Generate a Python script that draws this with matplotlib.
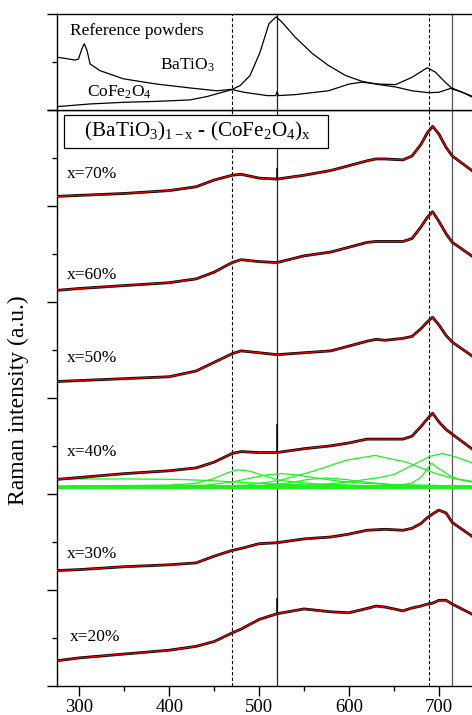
import matplotlib
matplotlib.use("Agg")
import matplotlib.pyplot as plt
from matplotlib.ticker import MultipleLocator

plt.rcParams['font.family'] = ['Liberation Serif', 'DejaVu Serif']
plt.rcParams['mathtext.fontset'] = 'custom'
plt.rcParams['mathtext.rm'] = 'Liberation Serif'
plt.rcParams['mathtext.it'] = 'Liberation Serif:italic'
plt.rcParams['mathtext.bf'] = 'Liberation Serif:bold'

# ---------------- data ----------------
# reference markers (cm-1)
dashed_lines = [470, 689]
solid_lines = [520, 715]

# reference powders (top panel)
cfo_x = [275, 286, 295, 299, 303, 305.6, 308.6, 312, 323, 349, 386, 423, 453, 469, 483, 509,
         518.5, 520, 521.5, 540, 577, 600, 614, 633, 652, 670, 687, 696, 707, 714, 726, 738]
cfo_y = [0.55, 0.535, 0.52, 0.53, 0.64, 0.69, 0.62, 0.48, 0.41, 0.325, 0.27, 0.23, 0.20, 0.215, 0.185, 0.15,
         0.15, 0.19, 0.15, 0.16, 0.20, 0.27, 0.29, 0.27, 0.265, 0.34, 0.44, 0.395, 0.29, 0.23, 0.185, 0.13]
bto_x = [275, 312, 349, 386, 423, 442, 461, 469, 479, 490, 501, 511, 519, 525, 540, 559, 577, 596,
         614, 633, 652, 670, 689, 700, 713, 726, 738]
bto_y = [0.035, 0.063, 0.08, 0.09, 0.105, 0.14, 0.19, 0.21, 0.255, 0.36, 0.60, 0.90, 0.97, 0.92, 0.76,
         0.59, 0.465, 0.36, 0.30, 0.265, 0.24, 0.20, 0.18, 0.185, 0.225, 0.185, 0.14]

# composite spectra (bottom panel, stacked, fitted envelope)
wn = [275, 300, 350, 400, 430, 450, 470, 480, 500, 520, 550, 580, 600, 620, 630, 640, 660, 670,
      680, 687, 693, 700, 708, 715, 738]
fit_70 = [5.10, 5.11, 5.13, 5.16, 5.20, 5.27, 5.32, 5.33, 5.29, 5.28, 5.32, 5.37, 5.42, 5.47, 5.49,
          5.49, 5.48, 5.52, 5.64, 5.76, 5.83, 5.75, 5.61, 5.52, 5.36]
fit_60 = [4.12, 4.14, 4.17, 4.20, 4.24, 4.31, 4.41, 4.44, 4.42, 4.41, 4.48, 4.52, 4.57, 4.62, 4.63,
          4.63, 4.63, 4.66, 4.78, 4.88, 4.94, 4.84, 4.71, 4.62, 4.47]
fit_50 = [3.17, 3.18, 3.20, 3.22, 3.28, 3.37, 3.46, 3.49, 3.47, 3.45, 3.47, 3.49, 3.54, 3.59, 3.61,
          3.60, 3.62, 3.64, 3.72, 3.79, 3.84, 3.76, 3.65, 3.58, 3.43]
fit_40 = [2.15, 2.17, 2.21, 2.24, 2.27, 2.33, 2.42, 2.44, 2.43, 2.43, 2.47, 2.50, 2.53, 2.57, 2.57,
          2.57, 2.57, 2.60, 2.70, 2.78, 2.84, 2.75, 2.67, 2.62, 2.46]
fit_30 = [1.20, 1.21, 1.24, 1.26, 1.28, 1.35, 1.41, 1.43, 1.48, 1.49, 1.53, 1.55, 1.58, 1.62, 1.625,
          1.63, 1.62, 1.64, 1.69, 1.75, 1.79, 1.83, 1.80, 1.70, 1.55]
fit_20 = [0.26, 0.29, 0.33, 0.37, 0.41, 0.46, 0.55, 0.59, 0.69, 0.75, 0.80, 0.77, 0.76, 0.805, 0.83,
          0.82, 0.78, 0.81, 0.83, 0.85, 0.86, 0.89, 0.89, 0.85, 0.74]
sample_labels = ["x=70%", "x=60%", "x=50%", "x=40%", "x=30%", "x=20%"]
label_y = [5.29, 4.24, 3.37, 2.39, 1.33, 0.47]
label_x = [286, 286, 286, 286, 286, 290]
spike_520 = [5.38, None, None, 2.72, None, 0.90]

# fitted components of x=40%
comp_base = 2.075
c1_x = [275, 350, 410, 440, 470, 500, 540, 600, 738]
c1_y = [2.155, 2.155, 2.15, 2.14, 2.125, 2.11, 2.095, 2.085, 2.075]
c2_x = [275, 400, 430, 450, 465, 476, 490, 505, 523, 560, 620, 738]
c2_y = [2.08, 2.09, 2.11, 2.16, 2.22, 2.25, 2.235, 2.19, 2.14, 2.105, 2.085, 2.078]
c3_x = [275, 440, 468, 494, 510, 525, 540, 560, 590, 616, 660, 738]
c3_y = [2.078, 2.09, 2.12, 2.17, 2.20, 2.21, 2.20, 2.17, 2.13, 2.11, 2.09, 2.08]
c4_x = [275, 500, 530, 555, 575, 595, 620, 650, 738]
c4_y = [2.075, 2.085, 2.11, 2.15, 2.165, 2.15, 2.12, 2.095, 2.08]
c5_x = [275, 450, 486, 523, 560, 597, 629, 664, 694, 716, 738]
c5_y = [2.075, 2.08, 2.09, 2.14, 2.235, 2.35, 2.40, 2.33, 2.22, 2.16, 2.13]
c6_x = [275, 650, 670, 681, 687, 692, 697, 704, 712, 722, 738]
c6_y = [2.075, 2.085, 2.11, 2.18, 2.26, 2.32, 2.28, 2.24, 2.19, 2.15, 2.12]
c7_x = [275, 560, 597, 634, 650, 671, 690, 704, 720, 738]
c7_y = [2.075, 2.09, 2.12, 2.17, 2.20, 2.30, 2.39, 2.42, 2.38, 2.32]

# ---------------- figure ----------------
fig = plt.figure(figsize=(4.72, 7.15), dpi=100)
ax = fig.add_axes([0.12076, 0.04098, 0.98052, 0.80517])
axt = fig.add_axes([0.12076, 0.84615, 0.98052, 0.13427])

for a in (ax, axt):
    a.set_xlim(275.2, 790)
    for s in a.spines.values():
        s.set_linewidth(1.0)
    for xv in dashed_lines:
        a.axvline(xv, color='black', lw=0.8, ls=(0, (3, 2)), zorder=1)
    a.axvline(solid_lines[0], color='#222222', lw=0.9, zorder=1)
    a.axvline(solid_lines[1], color='#555555', lw=0.9, zorder=1)
    a.yaxis.set_major_locator(MultipleLocator(1))
    a.yaxis.set_minor_locator(MultipleLocator(0.5))
    a.tick_params(axis='y', which='major', direction='out', length=7, width=1.0,
                  left=True, right=False, labelleft=False)
    a.tick_params(axis='y', which='minor', direction='out', length=3.5, width=1.0,
                  left=True, right=False)

# top panel
axt.set_ylim(0, 1)
axt.plot(cfo_x, cfo_y, color='black', lw=0.9, zorder=3)
axt.plot(bto_x, bto_y, color='black', lw=0.9, zorder=3)
axt.tick_params(axis='x', which='both', bottom=False, top=False, labelbottom=False)
axt.text(289.7, 0.78, "Reference powders", fontsize=12.5, va='baseline', ha='left')
axt.text(390, 0.42, r"BaTiO$_3$", fontsize=12.5, va='baseline', ha='left')
axt.text(308.6, 0.14, r"CoFe$_2$O$_4$", fontsize=12.5, va='baseline', ha='left')

# bottom panel
ax.set_ylim(0, 6)
ax.xaxis.set_major_locator(MultipleLocator(100))
ax.xaxis.set_minor_locator(MultipleLocator(50))
ax.tick_params(axis='x', which='major', direction='out', length=7, width=1.0,
               labelsize=13.5, pad=2.5, top=False)
ax.tick_params(axis='x', which='minor', direction='out', length=3.5, width=1.0, top=False)

green = '#22ee22'
ax.plot([wn[0], wn[-1]], [comp_base, comp_base], color=green, lw=2.2, zorder=2)
for cx, cy in [(c1_x, c1_y), (c2_x, c2_y), (c3_x, c3_y), (c4_x, c4_y),
               (c5_x, c5_y), (c6_x, c6_y), (c7_x, c7_y)]:
    ax.plot(cx, cy, color=green, lw=0.9, zorder=2)

fits = [fit_70, fit_60, fit_50, fit_40, fit_30, fit_20]
i520 = wn.index(520)
for fit, lab, lx, ly, sp in zip(fits, sample_labels, label_x, label_y, spike_520):
    ax.plot(wn, fit, color='black', lw=2.0, zorder=3)
    if sp is not None:
        ax.plot([wn[i520], wn[i520]], [fit[i520], sp], color='black', lw=1.1, zorder=3)
    ax.plot(wn, fit, color='#ee0000', lw=0.9, zorder=4)
    ax.text(lx, ly, lab, fontsize=12.5, va='baseline', ha='left')

ax.text(289, 5.725, r"   (BaTiO$_3$)$_{\mathrm{1-x}}$ - (CoFe$_2$O$_4$)$_{\mathrm{x}}$   ",
        fontsize=15.2, va='baseline', ha='left',
        bbox=dict(boxstyle='square,pad=0.25', fc='white', ec='black', lw=0.9))

fig.text(18 / 472, 1 - 400 / 715, "Raman intensity (a.u.)", rotation=90,
         fontsize=17, ha='center', va='center')

fig.savefig("out.png", dpi=100)
